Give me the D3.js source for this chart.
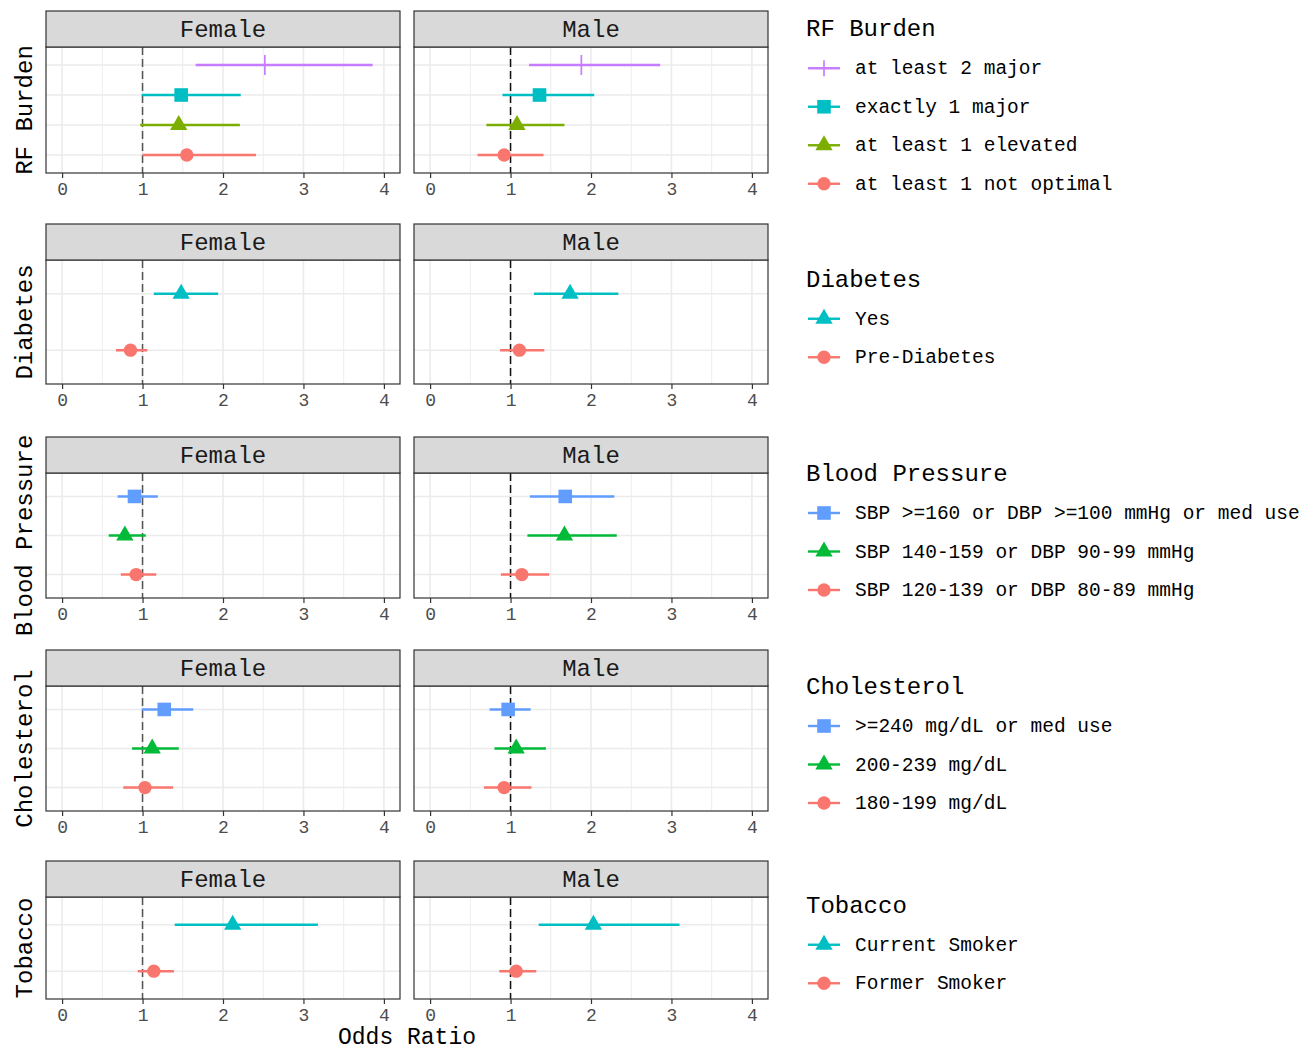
<!DOCTYPE html>
<html>
<head>
<meta charset="utf-8">
<script src="https://cdn.jsdelivr.net/npm/d3@7"></script>
<style>
  html, body { margin: 0; padding: 0; background: #fff; }
  svg { display: block; }
</style>
</head>
<body>
<script>
// ---------------- DATA ----------------
const sexes = ["Female", "Male"];
const groupNames = ["RF Burden", "Diabetes", "Blood Pressure", "Cholesterol", "Tobacco"];
const xTicks = [0, 1, 2, 3, 4];
const xLabel = "Odds Ratio";

// levels listed top-to-bottom as displayed
const rfLevels = ["at least 2 major", "exactly 1 major", "at least 1 elevated", "at least 1 not optimal"];
const rfF_or = [2.52, 1.48, 1.45, 1.55];
const rfF_lo = [1.66, 0.99, 0.97, 1.00];
const rfF_hi = [3.86, 2.22, 2.21, 2.41];
const rfM_or = [1.88, 1.36, 1.08, 0.92];
const rfM_lo = [1.23, 0.90, 0.70, 0.59];
const rfM_hi = [2.86, 2.04, 1.67, 1.41];

const dmLevels = ["Yes", "Pre-Diabetes"];
const dmF_or = [1.48, 0.85];
const dmF_lo = [1.14, 0.67];
const dmF_hi = [1.94, 1.06];
const dmM_or = [1.74, 1.11];
const dmM_lo = [1.29, 0.87];
const dmM_hi = [2.34, 1.42];

const bpLevels = ["SBP >=160 or DBP >=100 mmHg or med use", "SBP 140-159 or DBP 90-99 mmHg", "SBP 120-139 or DBP 80-89 mmHg"];
const bpF_or = [0.90, 0.78, 0.92];
const bpF_lo = [0.69, 0.58, 0.73];
const bpF_hi = [1.19, 1.04, 1.17];
const bpM_or = [1.68, 1.67, 1.14];
const bpM_lo = [1.24, 1.21, 0.88];
const bpM_hi = [2.29, 2.32, 1.48];

const chLevels = [">=240 mg/dL or med use", "200-239 mg/dL", "180-199 mg/dL"];
const chF_or = [1.27, 1.12, 1.03];
const chF_lo = [0.99, 0.87, 0.76];
const chF_hi = [1.63, 1.45, 1.38];
const chM_or = [0.97, 1.07, 0.92];
const chM_lo = [0.74, 0.80, 0.67];
const chM_hi = [1.25, 1.44, 1.26];

const tbLevels = ["Current Smoker", "Former Smoker"];
const tbF_or = [2.12, 1.14];
const tbF_lo = [1.40, 0.94];
const tbF_hi = [3.18, 1.39];
const tbM_or = [2.03, 1.07];
const tbM_lo = [1.35, 0.86];
const tbM_hi = [3.10, 1.32];

// ---------------- STYLE ----------------
const huePal = {
  2: ["#F8766D", "#00BFC4"],
  3: ["#F8766D", "#00BA38", "#619CFF"],
  4: ["#F8766D", "#7CAE00", "#00BFC4", "#C77CFF"]
};
const shapeOrder = ["circle", "triangle", "square", "plus"]; // by factor level

const groups = [
  { levels: rfLevels, F: [rfF_or, rfF_lo, rfF_hi], M: [rfM_or, rfM_lo, rfM_hi] },
  { levels: dmLevels, F: [dmF_or, dmF_lo, dmF_hi], M: [dmM_or, dmM_lo, dmM_hi] },
  { levels: bpLevels, F: [bpF_or, bpF_lo, bpF_hi], M: [bpM_or, bpM_lo, bpM_hi] },
  { levels: chLevels, F: [chF_or, chF_lo, chF_hi], M: [chM_or, chM_lo, chM_hi] },
  { levels: tbLevels, F: [tbF_or, tbF_lo, tbF_hi], M: [tbM_or, tbM_lo, tbM_hi] }
].map((g, i) => ({ ...g, name: groupNames[i] }));

// ---------------- LAYOUT ----------------
const W = 1311, H = 1050;
const stripTops = [11, 224, 437, 650, 861];
const panelHeights = [126, 124, 125, 125, 102];
const stripH = 36;
const panelLeft = 46, panelW = 354, panelGap = 14;
const FONT = "'Liberation Mono', 'DejaVu Sans Mono', monospace";

const svg = d3.select("body").append("svg")
  .attr("width", W).attr("height", H)
  .style("font-family", FONT);

function drawShape(sel, shape, cx, cy, color, plusSize) {
  if (shape === "plus") {
    const h = plusSize / 2;
    sel.append("line").attr("x1", cx - h).attr("x2", cx + h).attr("y1", cy).attr("y2", cy)
      .attr("stroke", color).attr("stroke-width", 1.7);
    sel.append("line").attr("x1", cx).attr("x2", cx).attr("y1", cy - h).attr("y2", cy + h)
      .attr("stroke", color).attr("stroke-width", 1.7);
  } else {
    const sym = { circle: d3.symbolCircle, triangle: d3.symbolTriangle, square: d3.symbolSquare }[shape];
    const size = { circle: 140, triangle: 130, square: 185 }[shape];
    sel.append("path").attr("d", d3.symbol().type(sym).size(size)())
      .attr("transform", `translate(${cx},${cy})`).attr("fill", color);
  }
}

groups.forEach((g, gi) => {
  const n = g.levels.length;
  const colorOf = i => huePal[n][n - 1 - i];
  const shapeOf = i => shapeOrder[n - 1 - i];
  const sTop = stripTops[gi];
  const pTop = sTop + stripH;
  const pBot = pTop + panelHeights[gi];
  const y = d3.scalePoint().domain(g.levels).range([pTop, pBot]).padding(0.6);

  sexes.forEach((sex, si) => {
    const x0 = panelLeft + si * (panelW + panelGap);
    const x = d3.scaleLinear().domain([-0.2, 4.2]).range([x0, x0 + panelW]);
    const [orv, lov, hiv] = si === 0 ? g.F : g.M;
    const p = svg.append("g");

    p.append("rect").attr("x", x0).attr("y", pTop).attr("width", panelW).attr("height", pBot - pTop).attr("fill", "#fff");
    // minor verticals
    p.selectAll(".minor").data([0.5, 1.5, 2.5, 3.5]).join("line")
      .attr("x1", d => x(d)).attr("x2", d => x(d)).attr("y1", pTop).attr("y2", pBot)
      .attr("stroke", "#EBEBEB").attr("stroke-width", 0.9);
    // major verticals
    p.selectAll(".major").data(xTicks).join("line")
      .attr("x1", d => x(d)).attr("x2", d => x(d)).attr("y1", pTop).attr("y2", pBot)
      .attr("stroke", "#EBEBEB").attr("stroke-width", 1.6);
    // horizontals
    p.selectAll(".hgrid").data(g.levels).join("line")
      .attr("x1", x0).attr("x2", x0 + panelW).attr("y1", d => y(d)).attr("y2", d => y(d))
      .attr("stroke", "#EBEBEB").attr("stroke-width", 1.6);
    // reference line at OR = 1
    p.append("line").attr("x1", x(1)).attr("x2", x(1)).attr("y1", pTop).attr("y2", pBot)
      .attr("stroke", si === 0 ? "#555" : "#111").attr("stroke-width", 1.5)
      .attr("stroke-dasharray", "8,4");
    // error bars
    g.levels.forEach((lev, i) => {
      p.append("line").attr("x1", x(lov[i])).attr("x2", x(hiv[i]))
        .attr("y1", y(lev)).attr("y2", y(lev))
        .attr("stroke", colorOf(i)).attr("stroke-width", 2.4);
    });
    g.levels.forEach((lev, i) => {
      drawShape(p, shapeOf(i), x(orv[i]), y(lev), colorOf(i), 20);
    });
    // border
    p.append("rect").attr("x", x0).attr("y", pTop).attr("width", panelW).attr("height", pBot - pTop)
      .attr("fill", "none").attr("stroke", "#333").attr("stroke-width", 1.2);
    // strip
    p.append("rect").attr("x", x0).attr("y", sTop).attr("width", panelW).attr("height", stripH)
      .attr("fill", "#D9D9D9").attr("stroke", "#333").attr("stroke-width", 1.2);
    p.append("text").attr("x", x0 + panelW / 2).attr("y", sTop + stripH / 2 + 8)
      .attr("text-anchor", "middle").attr("font-size", 24).attr("fill", "#1A1A1A").text(sex);
    // axis
    const ax = p.append("g").attr("transform", `translate(0,${pBot})`)
      .call(d3.axisBottom(x).tickValues(xTicks).tickSize(5).tickPadding(4).tickFormat(d3.format("d")));
    ax.select(".domain").remove();
    ax.selectAll(".tick line").attr("stroke", "#333").attr("stroke-width", 1.2);
    ax.selectAll(".tick text").attr("font-family", FONT).attr("font-size", 18).attr("fill", "#4D4D4D");
  });

  // y-axis title
  const cy = (pTop + pBot) / 2;
  svg.append("text").attr("transform", `translate(32,${cy}) rotate(-90)`)
    .attr("text-anchor", "middle").attr("font-size", 24).attr("fill", "#000").text(g.name);

  // legend
  const rowCenter = (sTop + pBot + 28) / 2;
  const titleY = rowCenter - (40 + 38.5 * (n - 1)) / 2;
  const lg = svg.append("g");
  lg.append("text").attr("x", 806).attr("y", titleY + 8).attr("font-size", 24).attr("fill", "#000").text(g.name);
  g.levels.forEach((lev, i) => {
    const iy = titleY + 40 + 38.5 * i;
    lg.append("line").attr("x1", 808).attr("x2", 840).attr("y1", iy).attr("y2", iy)
      .attr("stroke", colorOf(i)).attr("stroke-width", 2.4);
    drawShape(lg, shapeOf(i), 824, iy, colorOf(i), 16);
    lg.append("text").attr("x", 855).attr("y", iy + 6).attr("font-size", 19.5).attr("fill", "#000").text(lev);
  });
});

// x-axis title
svg.append("text").attr("x", panelLeft + (2 * panelW + panelGap) / 2).attr("y", 1044)
  .attr("text-anchor", "middle").attr("font-size", 23).attr("fill", "#000").text(xLabel);
</script>
</body>
</html>
